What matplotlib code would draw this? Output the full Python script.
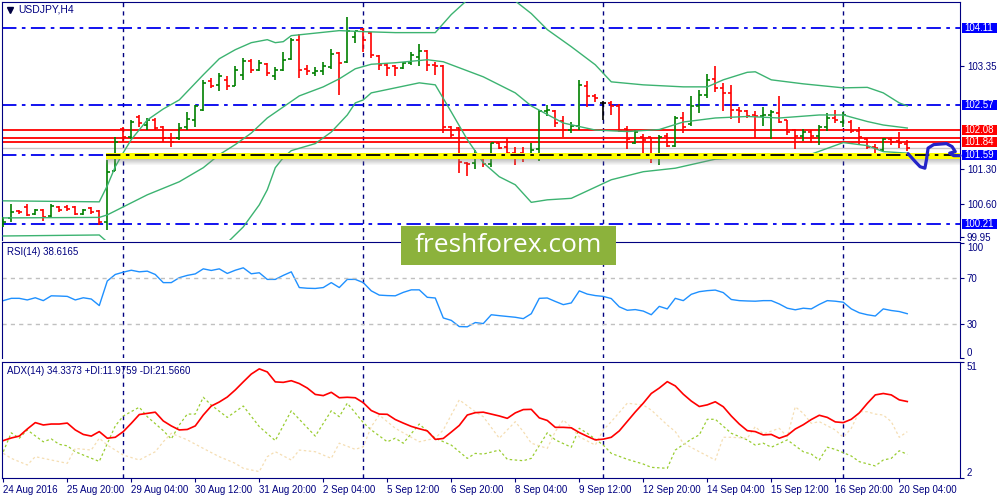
import numpy as np
import matplotlib.pyplot as plt
from matplotlib.patches import Rectangle
from matplotlib.transforms import blended_transform_factory

plt.rcParams['font.family'] = ['Liberation Sans', 'DejaVu Sans']

# USDJPY H4 bars, 24 Aug 2016 12:00 .. 20 Sep 2016 08:00
opens = [100.17, 100.33, 100.47, 100.55, 100.41, 100.49, 100.36, 100.55, 100.55, 100.55,
         100.41, 100.53, 100.47, 100.25, 101.27, 102.10, 101.95, 102.34, 102.18, 102.28,
         102.15, 101.92, 101.92, 102.14, 102.28, 102.48, 103.05, 102.98, 103.08, 102.96,
         103.18, 103.46, 103.27, 103.40, 103.15, 103.27, 103.49, 103.88, 103.29, 103.21,
         103.25, 103.33, 103.61, 103.44, 103.94, 104.09, 104.01, 103.56, 103.38, 103.35,
         103.31, 103.41, 103.54, 103.66, 103.38, 103.36, 102.14, 102.12, 101.42, 101.43,
         101.59, 101.41, 101.82, 101.74, 101.62, 101.62, 101.52, 101.70, 102.45, 102.45,
         102.26, 102.08, 102.16, 102.96, 102.76, 102.62, 102.62, 102.56, 102.10, 101.83,
         101.94, 101.94, 101.52, 101.97, 101.76, 102.32, 102.20, 102.55, 102.78, 103.09,
         102.91, 102.81, 102.48, 102.45, 102.38, 102.36, 102.38, 102.42, 102.27, 102.08,
         101.96, 102.05, 101.96, 102.14, 102.32, 102.25, 102.25, 102.07, 101.90, 101.75,
         101.69, 101.90, 101.87, 101.81]
highs = [100.35, 100.61, 100.49, 100.61, 100.51, 100.51, 100.61, 100.57, 100.59, 100.57,
         100.51, 100.55, 100.49, 101.49, 101.95, 102.14, 102.27, 102.38, 102.32, 102.32,
         102.16, 102.02, 102.22, 102.44, 102.58, 103.08, 103.12, 103.22, 103.15, 103.35,
         103.52, 103.50, 103.48, 103.42, 103.34, 103.64, 103.92, 104.00, 103.38, 103.34,
         103.44, 103.70, 103.64, 104.33, 104.06, 104.12, 104.04, 103.58, 103.42, 103.38,
         103.44, 103.64, 103.80, 103.68, 103.44, 103.38, 102.16, 102.14, 101.45, 101.69,
         101.62, 101.83, 101.83, 101.92, 101.74, 101.74, 101.83, 102.48, 102.58, 102.48,
         102.35, 102.25, 103.07, 103.05, 102.80, 102.65, 102.65, 102.60, 102.16, 102.08,
         102.00, 101.95, 101.98, 102.02, 102.35, 102.43, 102.75, 102.88, 103.20, 103.36,
         103.01, 102.98, 102.54, 102.47, 102.45, 102.54, 102.48, 102.76, 102.28, 102.10,
         102.10, 102.08, 102.18, 102.42, 102.47, 102.43, 102.27, 102.14, 101.92, 101.81,
         101.92, 101.94, 102.05, 101.89]
lows = [100.15, 100.25, 100.41, 100.37, 100.39, 100.27, 100.35, 100.45, 100.47, 100.39,
        100.39, 100.41, 100.19, 100.09, 101.27, 101.85, 101.90, 102.15, 102.08, 102.08,
        101.85, 101.75, 101.89, 102.08, 102.15, 102.45, 102.92, 102.85, 102.88, 102.95,
        103.08, 103.22, 103.25, 103.15, 103.07, 103.25, 103.48, 103.12, 103.18, 103.15,
        103.18, 103.30, 102.78, 103.42, 103.82, 103.64, 103.51, 103.28, 103.15, 103.15,
        103.29, 103.38, 103.36, 103.25, 103.18, 102.02, 101.92, 101.22, 101.17, 101.30,
        101.35, 101.34, 101.70, 101.61, 101.39, 101.45, 101.50, 101.47, 102.36, 102.15,
        101.95, 102.02, 102.08, 102.54, 102.63, 102.28, 102.38, 102.05, 101.70, 101.81,
        101.59, 101.42, 101.39, 101.74, 101.74, 102.03, 102.16, 102.42, 102.72, 102.83,
        102.45, 102.30, 102.23, 102.32, 101.92, 102.16, 101.90, 102.23, 101.98, 101.70,
        101.87, 101.83, 101.79, 102.07, 102.23, 102.14, 102.02, 101.79, 101.70, 101.62,
        101.65, 101.79, 101.72, 101.67]
closes = [100.25, 100.45, 100.45, 100.39, 100.49, 100.35, 100.56, 100.49, 100.51, 100.41,
          100.49, 100.45, 100.25, 101.25, 101.85, 101.95, 102.25, 102.22, 102.28, 102.12,
          101.92, 101.85, 102.12, 102.30, 102.55, 103.01, 102.95, 103.15, 102.96, 103.28,
          103.46, 103.28, 103.41, 103.21, 103.28, 103.48, 103.88, 103.28, 103.25, 103.25,
          103.35, 103.60, 103.41, 104.06, 104.06, 103.88, 103.58, 103.38, 103.31, 103.31,
          103.41, 103.58, 103.66, 103.38, 103.35, 102.14, 101.98, 101.45, 101.40, 101.59,
          101.41, 101.82, 101.72, 101.62, 101.61, 101.57, 101.69, 102.45, 102.48, 102.23,
          102.08, 102.16, 102.98, 102.76, 102.72, 102.62, 102.55, 102.06, 101.90, 102.05,
          101.88, 101.52, 101.94, 101.76, 102.32, 102.15, 102.55, 102.78, 103.08, 102.91,
          102.81, 102.48, 102.45, 102.36, 102.36, 102.38, 102.43, 102.25, 102.05, 101.96,
          102.05, 101.96, 102.14, 102.32, 102.27, 102.38, 102.07, 101.94, 101.75, 101.73,
          101.90, 101.85, 101.82, 101.73]

dates = ['24 Aug 2016', '25 Aug 20:00', '29 Aug 04:00', '30 Aug 12:00', '31 Aug 20:00',
         '2 Sep 04:00', '5 Sep 12:00', '6 Sep 20:00', '8 Sep 04:00', '9 Sep 12:00',
         '12 Sep 20:00', '14 Sep 04:00', '15 Sep 12:00', '16 Sep 20:00', '20 Sep 04:00']
date_bars = list(range(0, 113, 8))
week_starts = [15, 45, 75, 105]

# Bollinger bands (20), read at selected bars
bb_up_bar = [0, 12, 13, 14, 15, 16, 18, 20, 22, 25, 27, 29, 31, 33, 34, 35, 36, 39, 42, 45, 49,
             54, 56, 58, 60, 62, 64, 66, 68, 71, 74, 76, 80, 85, 88, 90, 93, 94, 96, 100, 105,
             108, 110, 112, 113]
bb_up = [100.67, 100.65, 100.97, 101.35, 101.63, 101.89, 102.28, 102.50, 102.68, 103.18, 103.50,
         103.68, 103.82, 103.88, 103.82, 103.84, 103.96, 104.01, 104.06, 104.04, 104.02, 104.02,
         104.38, 104.67, 104.85, 104.81, 104.65, 104.40, 104.08, 103.74, 103.38, 103.04, 102.98,
         102.94, 102.94, 103.08, 103.23, 103.24, 103.08, 103.00, 102.92, 102.93, 102.82, 102.62,
         102.56]
bb_mid_bar = [0, 12, 13, 15, 18, 22, 25, 27, 29, 31, 33, 35, 37, 40, 42, 44, 46, 49, 53, 55, 57,
              60, 64, 66, 70, 74, 78, 82, 85, 89, 93, 97, 102, 105, 108, 110, 113]
bb_mid = [100.33, 100.34, 100.39, 100.55, 100.79, 101.05, 101.33, 101.59, 101.79, 102.02,
          102.32, 102.54, 102.76, 102.94, 103.10, 103.30, 103.39, 103.42, 103.48, 103.44,
          103.32, 103.14, 102.82, 102.56, 102.22, 102.08, 102.05, 102.09, 102.24, 102.32,
          102.35, 102.32, 102.38, 102.38, 102.25, 102.18, 102.12]
bb_low_bar = [0, 12, 13, 15, 18, 20, 22, 25, 27, 30, 32, 33, 34, 35, 36, 39, 41, 43, 44, 45, 46,
              49, 52, 54, 56, 58, 60, 62, 64, 66, 68, 71, 76, 80, 84, 89, 97, 101, 105, 108,
              110, 113]
bb_low = [99.97, 99.99, 99.85, 99.47, 99.30, 99.36, 99.42, 99.48, 99.68, 100.15, 100.59,
          100.89, 101.33, 101.53, 101.67, 101.81, 102.04, 102.38, 102.62, 102.68, 102.82,
          102.92, 103.02, 102.98, 102.44, 101.89, 101.43, 101.15, 100.99, 100.64, 100.69,
          100.72, 101.09, 101.25, 101.32, 101.50, 101.57, 101.60, 101.83, 101.77, 101.65,
          101.62]

rsi = [50.0, 52.0, 52.0, 50.6, 52.5, 50.0, 54.2, 54.0, 53.7, 50.6,
       52.5, 51.4, 45.7, 67.1, 72.8, 74.8, 76.5, 75.1, 75.7, 72.8,
       65.7, 65.7, 70.0, 72.0, 73.3, 77.7, 76.3, 77.7, 73.7, 76.5,
       78.6, 73.4, 74.3, 68.5, 68.5, 72.0, 75.1, 61.4, 60.8, 60.6,
       61.4, 65.7, 61.4, 68.5, 68.5, 65.7, 58.5, 54.8, 54.4, 54.2,
       57.2, 59.4, 59.4, 52.9, 52.3, 34.9, 32.8, 27.4, 27.2, 30.9,
       30.0, 37.7, 36.9, 36.2, 35.5, 34.3, 38.6, 52.0, 52.3, 49.3,
       46.5, 48.0, 58.5, 55.7, 54.4, 53.7, 51.8, 44.6, 41.6, 42.2,
       40.9, 37.7, 45.0, 42.8, 52.0, 50.0, 55.5, 57.8, 58.7, 59.2,
       57.0, 51.0, 50.0, 49.7, 49.5, 50.0, 50.0, 47.1, 43.4, 42.0,
       43.4, 42.8, 46.7, 50.0, 49.5, 48.6, 42.8, 39.4, 37.7, 36.6,
       42.8, 41.4, 40.5, 38.6]

adx = [17.8, 18.9, 19.7, 22.7, 25.4, 24.4, 24.8, 24.8, 25.2, 22.3,
       20.4, 19.7, 21.6, 18.8, 19.2, 21.6, 25.1, 28.8, 29.3, 29.8,
       26.1, 24.0, 22.3, 22.5, 24.0, 28.6, 32.4, 34.1, 36.2, 39.2,
       42.6, 45.9, 48.1, 46.8, 42.6, 42.4, 43.1, 41.9, 40.0, 37.3,
       36.8, 38.2, 35.9, 36.1, 35.9, 33.8, 30.5, 29.0, 28.9, 26.7,
       25.2, 23.8, 22.8, 21.9, 18.3, 18.7, 21.4, 24.2, 28.6, 29.6,
       29.8, 29.0, 28.2, 27.2, 29.5, 30.9, 31.0, 27.4, 26.3, 23.4,
       23.4, 23.2, 21.2, 19.6, 18.1, 18.4, 19.2, 21.9, 25.9, 29.9,
       33.6, 37.7, 40.0, 42.7, 40.9, 37.4, 34.5, 32.2, 32.9, 34.2,
       32.1, 28.2, 24.8, 22.0, 21.6, 20.2, 20.4, 18.8, 20.0, 22.7,
       24.5, 26.7, 28.5, 27.6, 25.7, 25.4, 26.8, 29.5, 33.5, 37.1,
       37.7, 37.1, 35.0, 34.3]

pdi_bar = [0, 1, 2, 3, 5, 6, 7, 8, 9, 10, 12, 14, 15, 17, 18, 20, 21, 22, 23, 24, 25, 26, 28,
           30, 32, 34, 36, 37, 39, 41, 42, 43, 45, 46, 48, 49, 50, 52, 54, 56, 58, 59, 60, 62,
           63, 65, 66, 68, 69, 71, 72, 73, 75, 76, 78, 80, 81, 83, 84, 86, 87, 88, 89, 91, 93,
           94, 95, 96, 98, 100, 101, 102, 103, 104, 106, 107, 109, 110, 111, 112, 113]
pdi = [13.1, 21.1, 18.8, 22.3, 17.3, 18.5, 16.2, 15.6, 13.1, 11.7, 9.0, 24.0, 28.2, 31.9, 27.9,
       22.0, 18.5, 24.4, 29.0, 29.0, 36.1, 32.8, 27.6, 32.4, 23.7, 17.8, 30.4, 26.8, 19.7, 30.4,
       27.9, 33.6, 25.4, 22.3, 17.3, 18.8, 16.7, 24.8, 18.8, 15.9, 10.3, 12.4, 12.1, 13.8, 9.9,
       9.3, 10.3, 21.1, 18.1, 15.0, 23.0, 20.9, 15.9, 12.4, 9.9, 7.9, 6.5, 6.1, 13.8, 18.4,
       20.2, 26.8, 26.8, 20.9, 18.1, 15.9, 16.7, 15.0, 18.1, 13.1, 12.1, 9.6, 15.0, 14.1, 11.3,
       8.9, 7.1, 9.6, 10.3, 13.5, 11.98]
mdi_bar = [0, 1, 3, 4, 5, 8, 9, 11, 12, 13, 15, 17, 19, 20, 21, 23, 25, 27, 29, 30, 32, 33, 34,
           36, 37, 39, 41, 42, 44, 45, 46, 47, 49, 52, 54, 55, 57, 59, 60, 62, 64, 65, 66, 68,
           69, 70, 71, 72, 74, 75, 76, 78, 80, 81, 83, 84, 85, 87, 89, 90, 91, 93, 94, 95, 97,
           98, 99, 100, 101, 102, 104, 105, 106, 107, 108, 109, 110, 111, 112, 113]
mdi = [12.4, 10.3, 7.5, 11.0, 10.3, 8.2, 14.5, 13.8, 18.8, 15.9, 11.7, 9.6, 13.1, 17.3, 20.9,
       18.1, 14.5, 11.0, 8.2, 6.1, 4.7, 11.0, 13.1, 9.6, 13.8, 13.1, 10.3, 16.7, 14.1, 15.2,
       23.7, 28.6, 23.0, 17.3, 18.8, 22.3, 35.0, 30.0, 27.9, 18.8, 25.8, 21.6, 16.7, 14.5,
       21.6, 26.5, 23.4, 19.4, 15.9, 22.3, 25.8, 33.6, 32.8, 30.7, 24.4, 21.6, 16.7, 13.1, 9.6,
       19.2, 19.2, 18.8, 23.7, 20.6, 23.0, 19.4, 32.1, 29.3, 25.1, 25.8, 22.3, 19.2, 23.0,
       30.0, 30.0, 29.0, 28.6, 25.8, 19.2, 21.57]

# objects drawn on the chart
blue_levels = [104.11, 102.57, 101.59, 100.21]
red_levels = [102.08, 101.93, 101.84]
bid_price = 101.73
support = 101.59
price_ticks = [103.35, 101.30, 100.60, 99.95]
price_boxes = [(104.11, '#0000FF'), (102.57, '#0000FF'), (102.08, '#FF0000'),
               (101.84, '#FF0000'), (101.59, '#0000FF'), (100.21, '#0000FF')]
# hand drawn blue arrow
arrow_bar = [113.1, 114.0, 114.6, 115.2, 115.4, 115.6, 116.3, 117.9, 118.6, 119.0, 118.3, 118.8, 119.6]
arrow_price = [101.61, 101.45, 101.35, 101.32, 101.49, 101.72, 101.79, 101.81, 101.75, 101.65,
               101.62, 101.57, 101.57]

NAVY = '#000080'
FS = 7
XMIN, XMAX = -0.16, 119.59

fig = plt.figure(figsize=(10, 5), dpi=100)
ax = fig.add_axes([0.002, 0.52, 0.958, 0.476])
ax_rsi = fig.add_axes([0.002, 0.284, 0.958, 0.232], sharex=ax)
ax_adx = fig.add_axes([0.002, 0.044, 0.958, 0.232], sharex=ax)

for a in (ax, ax_rsi, ax_adx):
    for s in a.spines.values():
        s.set_color(NAVY)
    a.tick_params(left=False, labelleft=False, bottom=False, labelbottom=False,
                  right=True, labelright=True, colors=NAVY, labelsize=FS, length=3, pad=2)
    for w in week_starts:
        a.axvline(w, color=NAVY, lw=1, ls=(0, (3, 3)), zorder=1)
ax.spines['bottom'].set_visible(False)
ax_rsi.spines['bottom'].set_visible(False)

# ---- main chart ----
idx = np.arange(len(closes))
o, h, l, c = map(np.array, (opens, highs, lows, closes))
cols = np.where(c > o, '#008000', np.where(c < o, '#FF0000', '#000000'))
ax.vlines(idx, l, h, colors=cols, lw=1.2, zorder=3)
ax.hlines(o, idx - 0.4, idx, colors=cols, lw=1.2, zorder=3)
ax.hlines(c, idx, idx + 0.4, colors=cols, lw=1.2, zorder=3)

for b, v in ((bb_up_bar, bb_up), (bb_mid_bar, bb_mid), (bb_low_bar, bb_low)):
    ax.plot(b, v, color='#3CB371', lw=1, zorder=4)

for p in blue_levels:
    ax.axhline(p, color='#0000EE', lw=1.3, ls=(0, (8, 3, 2, 3)), zorder=2)
for p in red_levels:
    ax.axhline(p, color='#FF0000', lw=1.3, zorder=2)
ax.axhline(bid_price, color='#C8C8C8', lw=1, zorder=2)

# yellow highlighted support with shadow
x0 = 12.84
ax.fill_between([x0, XMAX], support - 0.09, support + 0.03, color='#FFFF00', lw=0, zorder=5)
for k in range(6):
    ax.fill_between([x0, XMAX], support - 0.09 - 0.02 * (k + 1), support - 0.09 - 0.02 * k,
                    color='#808080', alpha=0.45 * (1 - k / 6), lw=0, zorder=5)
ax.hlines(support, x0, XMAX, color='black', lw=1.3, ls=(0, (8, 3, 2, 3)), zorder=6)

ax.plot(arrow_bar, arrow_price, color='#2424C8', lw=2.3, clip_on=False,
        solid_capstyle='round', solid_joinstyle='round', zorder=7)

ax.set_xlim(XMIN, XMAX)
ax.set_ylim(99.89, 104.63)
ax.set_yticks(price_ticks)
ax.set_yticklabels([f'{p:.2f}' for p in price_ticks])

tr = blended_transform_factory(ax.transAxes, ax.transData)
for p, col in price_boxes:
    ax.add_patch(Rectangle((1.0018, p - 0.1), 0.0365, 0.2, transform=tr, fc=col, ec='none',
                           clip_on=False, zorder=8))
    ax.text(1.0198, p, f'{p:.2f}', transform=tr, ha='center', va='center', color='white',
            fontsize=FS, clip_on=False, zorder=9)

ax.plot(0.0085, 0.967, marker='v', ms=5, color='#000040', transform=ax.transAxes, clip_on=False)
ax.text(0.0167, 0.967, 'USDJPY,H4', transform=ax.transAxes, color=NAVY, fontsize=FS + 0.5,
        va='center', ha='left')

# ---- RSI ----
ax_rsi.plot(idx, rsi, color='#1E90FF', lw=1)
for lv in (70, 30):
    ax_rsi.axhline(lv, color='#C0C0C0', lw=1, ls=(0, (3, 3)))
ax_rsi.set_ylim(1.7, 101.1)
ax_rsi.set_yticks([100, 70, 30, 0])
ax_rsi.set_yticklabels(['100', '70', '30', '0'])
tl = ax_rsi.get_yticklabels()
tl[0].set_va('top')
tl[3].set_va('bottom')
ax_rsi.text(0.005, 0.914, 'RSI(14) 38.6165', transform=ax_rsi.transAxes, color=NAVY,
            fontsize=FS, va='center')

# ---- ADX ----
ax_adx.plot(pdi_bar, pdi, color='#9ACD32', lw=0.9, ls=(0, (2, 2)))
ax_adx.plot(mdi_bar, mdi, color='#F5DEB3', lw=0.9, ls=(0, (2, 2)))
ax_adx.plot(idx, adx, color='#FF0000', lw=1.2)
ax_adx.set_ylim(2, 51)
ax_adx.set_yticks([51, 2])
ax_adx.set_yticklabels(['51', '2'])
tl = ax_adx.get_yticklabels()
tl[0].set_va('top')
tl[1].set_va('bottom')
ax_adx.text(0.005, 0.922, 'ADX(14) 34.3373 +DI:11.9759 -DI:21.5660', transform=ax_adx.transAxes,
            color=NAVY, fontsize=FS, va='center')

ax_adx.set_xticks(date_bars)
ax_adx.set_xticklabels(dates, ha='left')
ax_adx.tick_params(axis='x', bottom=True, labelbottom=True, length=3, color=NAVY,
                   labelcolor=NAVY, labelsize=FS, pad=2)

# watermark
fig.add_artist(Rectangle((0.401, 1 - 265 / 500), 0.215, 39 / 500, transform=fig.transFigure,
                         fc='#8CB23C', ec='none', zorder=10))
fig.text(0.5085, 1 - 245.5 / 500, 'freshforex.com', color='white', fontsize=19,
         family='Open Sans', ha='center', va='center', zorder=11)

fig.savefig('out.png', dpi=100)
